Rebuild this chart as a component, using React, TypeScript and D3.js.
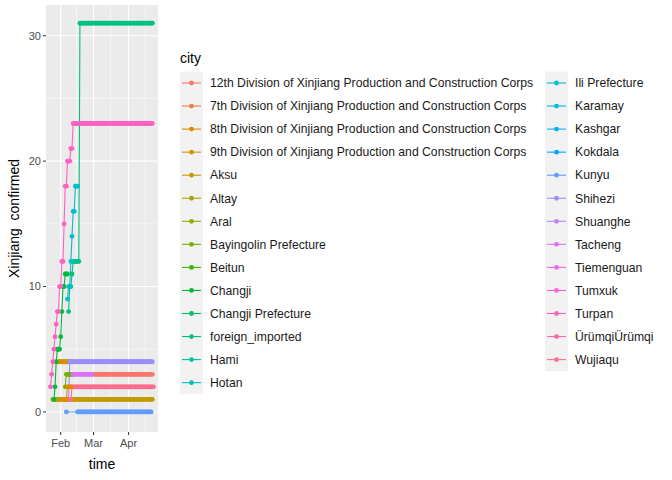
import * as d3 from 'd3';

const cities = [
  '12th Division of Xinjiang Production and Construction Corps',
  '7th Division of Xinjiang Production and Construction Corps',
  '8th Division of Xinjiang Production and Construction Corps',
  '9th Division of Xinjiang Production and Construction Corps',
  'Aksu', 'Altay', 'Aral', 'Bayingolin Prefecture', 'Beitun', 'Changji',
  'Changji Prefecture', 'foreign_imported', 'Hami', 'Hotan', 'Ili Prefecture',
  'Karamay', 'Kashgar', 'Kokdala', 'Kunyu', 'Shihezi', 'Shuanghe', 'Tacheng',
  'Tiemenguan', 'Tumxuk', 'Turpan', 'ÜrümqiÜrümqi', 'Wujiaqu',
];

// each series: city, first date, runs of [value, number of days]
const seriesCity = ['Aksu', '9th Division of Xinjiang Production and Construction Corps', 'Bayingolin Prefecture',
  'Changji', 'foreign_imported', 'Ili Prefecture', 'Shihezi', 'Tacheng', '12th Division of Xinjiang Production and Construction Corps',
  'Wujiaqu', 'Kunyu', 'Turpan', '8th Division of Xinjiang Production and Construction Corps'];
const seriesStart = ['2020-01-25', '2020-01-30', '2020-02-05', '2020-01-26', '2020-02-08', '2020-02-07', '2020-02-08',
  '2020-02-12', '2020-03-03', '2020-02-09', '2020-02-06', '2020-01-23', '2020-02-04'];
const seriesRuns: [number, number][][] = [
  [[1, 89]],
  [[4, 13]],
  [[2, 1], [3, 7]],
  [[1, 1], [2, 1], [4, 1], [5, 3], [6, 1], [8, 1], [10, 2], [11, 3]],
  [[8, 1], [10, 2], [11, 1], [12, 6], [31, 65]],
  [[9, 1], [10, 2], [12, 1], [14, 1], [16, 2], [18, 3]],
  [[1, 1], [4, 74]],
  [[3, 20]],
  [[3, 51]],
  [[1, 2], [2, 73]],
  [[0, 1], [0, 66]],
  [[2, 1], [3, 1], [4, 1], [5, 1], [6, 1], [7, 1], [8, 2], [10, 2], [12, 2], [15, 1], [18, 2], [20, 3], [21, 2], [23, 71]],
  [[1, 3], [2, 4]],
];
const kunyuGap = 9;

const xTicks = ['2020-02-01', '2020-03-01', '2020-04-01'];
const xTickLabels = ['Feb', 'Mar', 'Apr'];
const yTicks = [0, 10, 20, 30];

const parse = d3.timeParse('%Y-%m-%d');

// R's hcl() is polar CIELUV
function hclLuv(h: number, c: number, l: number) {
  const Xn = 95.047, Yn = 100, Zn = 108.883;
  const un = (4 * Xn) / (Xn + 15 * Yn + 3 * Zn), vn = (9 * Yn) / (Xn + 15 * Yn + 3 * Zn);
  const rad = (h * Math.PI) / 180;
  const u = c * Math.cos(rad), v = c * Math.sin(rad);
  const Y = Yn * Math.pow((l + 16) / 116, 3);
  const up = u / (13 * l) + un, vp = v / (13 * l) + vn;
  const X = (Y * 9 * up) / (4 * vp), Z = (Y * (12 - 3 * up - 20 * vp)) / (4 * vp);
  const x = X / 100, y = Y / 100, z = Z / 100;
  const lin = [3.2404542 * x - 1.5371385 * y - 0.4985314 * z,
    -0.969266 * x + 1.8760108 * y + 0.041556 * z,
    0.0556434 * x - 0.2040259 * y + 1.0572252 * z];
  const g = lin.map((t) => {
    const s = t <= 0.0031308 ? 12.92 * t : 1.055 * Math.pow(t, 1 / 2.4) - 0.055;
    return Math.round(255 * Math.max(0, Math.min(1, s)));
  });
  return d3.rgb(g[0], g[1], g[2]).formatHex();
}
const color = (c: string) => hclLuv(15 + (360 / cities.length) * cities.indexOf(c), 100, 65);

export default function App() {
  const L = 46, R = 158, T = 5, B = 432;
  const x = d3.scaleTime().domain([parse('2020-01-19')!, parse('2020-04-27')!]).range([L, R]);
  const y = d3.scaleLinear().domain([-1.6, 32.45]).range([B, T]);

  const series = seriesCity.map((c, k) => {
    const pts: { d: Date; v: number }[] = [];
    let day = parse(seriesStart[k])!;
    seriesRuns[k].forEach(([v, n], r) => {
      if (c === 'Kunyu' && r === 1) day = d3.timeDay.offset(day, kunyuGap);
      for (let j = 0; j < n; j++) {
        pts.push({ d: day, v });
        day = d3.timeDay.offset(day, 1);
      }
    });
    return { c, pts };
  });
  const line = d3.line<{ d: Date; v: number }>().x((p) => x(p.d)).y((p) => y(p.v));
  const minorX = [parse('2020-01-16')!, parse('2020-02-15')!, parse('2020-03-16')!, parse('2020-04-16')!];

  const rows = 14, rowH = 23.05, keyY = 83;
  return (
    <svg width={672} height={480} style={{ position: 'absolute', left: 0, top: 0 }} fontFamily="Arial, 'Liberation Sans', sans-serif">
      <rect width={672} height={480} fill="#fff" />
      <rect x={L} y={T} width={R - L} height={B - T} fill="#ebebeb" />
      {[-5, 5, 15, 25].map((v) => (
        <line key={v} x1={L} x2={R} y1={y(v)} y2={y(v)} stroke="#fff" strokeWidth={0.5} />
      ))}
      {minorX.map((d, i) => x(d) > L && x(d) < R && (
        <line key={i} x1={x(d)} x2={x(d)} y1={T} y2={B} stroke="#fff" strokeWidth={0.5} />
      ))}
      {yTicks.map((v) => (
        <line key={v} x1={L} x2={R} y1={y(v)} y2={y(v)} stroke="#fff" strokeWidth={1.1} />
      ))}
      {xTicks.map((t) => (
        <line key={t} x1={x(parse(t)!)} x2={x(parse(t)!)} y1={T} y2={B} stroke="#fff" strokeWidth={1.1} />
      ))}
      <g>
        {series.map((s) => (
          <path key={s.c} d={line(s.pts)!} fill="none" stroke={color(s.c)} strokeWidth={1.1} />
        ))}
        {series.map((s) =>
          s.pts.map((p, i) => <circle key={s.c + i} cx={x(p.d)} cy={y(p.v)} r={2.4} fill={color(s.c)} />)
        )}
      </g>
      {yTicks.map((v) => (
        <g key={v}>
          <line x1={L - 3} x2={L} y1={y(v)} y2={y(v)} stroke="#333" />
          <text x={L - 5} y={y(v)} dy="0.35em" textAnchor="end" fontSize={11} fill="#4d4d4d">{v}</text>
        </g>
      ))}
      {xTicks.map((t, i) => (
        <g key={t}>
          <line x1={x(parse(t)!)} x2={x(parse(t)!)} y1={B} y2={B + 3} stroke="#333" />
          <text x={x(parse(t)!)} y={B + 15} textAnchor="middle" fontSize={11} fill="#4d4d4d">{xTickLabels[i]}</text>
        </g>
      ))}
      <text x={(L + R) / 2} y={469} textAnchor="middle" fontSize={14}>time</text>
      <text transform={`translate(19,${(T + B) / 2}) rotate(-90)`} textAnchor="middle" fontSize={14} style={{ whiteSpace: 'pre' }}>Xinjiang  confirmed</text>
      <text x={180} y={63} fontSize={14}>city</text>
      {cities.map((c, i) => {
        const col = Math.floor(i / rows), row = i % rows;
        const kx = col === 0 ? 180 : 545, cy = keyY + row * rowH;
        return (
          <g key={c}>
            <rect x={kx} y={cy - rowH / 2} width={23} height={rowH} fill="#f2f2f2" />
            <line x1={kx + 2} x2={kx + 21} y1={cy} y2={cy} stroke={color(c)} strokeWidth={1.1} />
            <circle cx={kx + 11.5} cy={cy} r={2.4} fill={color(c)} />
            <text x={kx + 30} y={cy} dy="0.35em" fontSize={12.2} fill="#1a1a1a">{c}</text>
          </g>
        );
      })}
    </svg>
  );
}
